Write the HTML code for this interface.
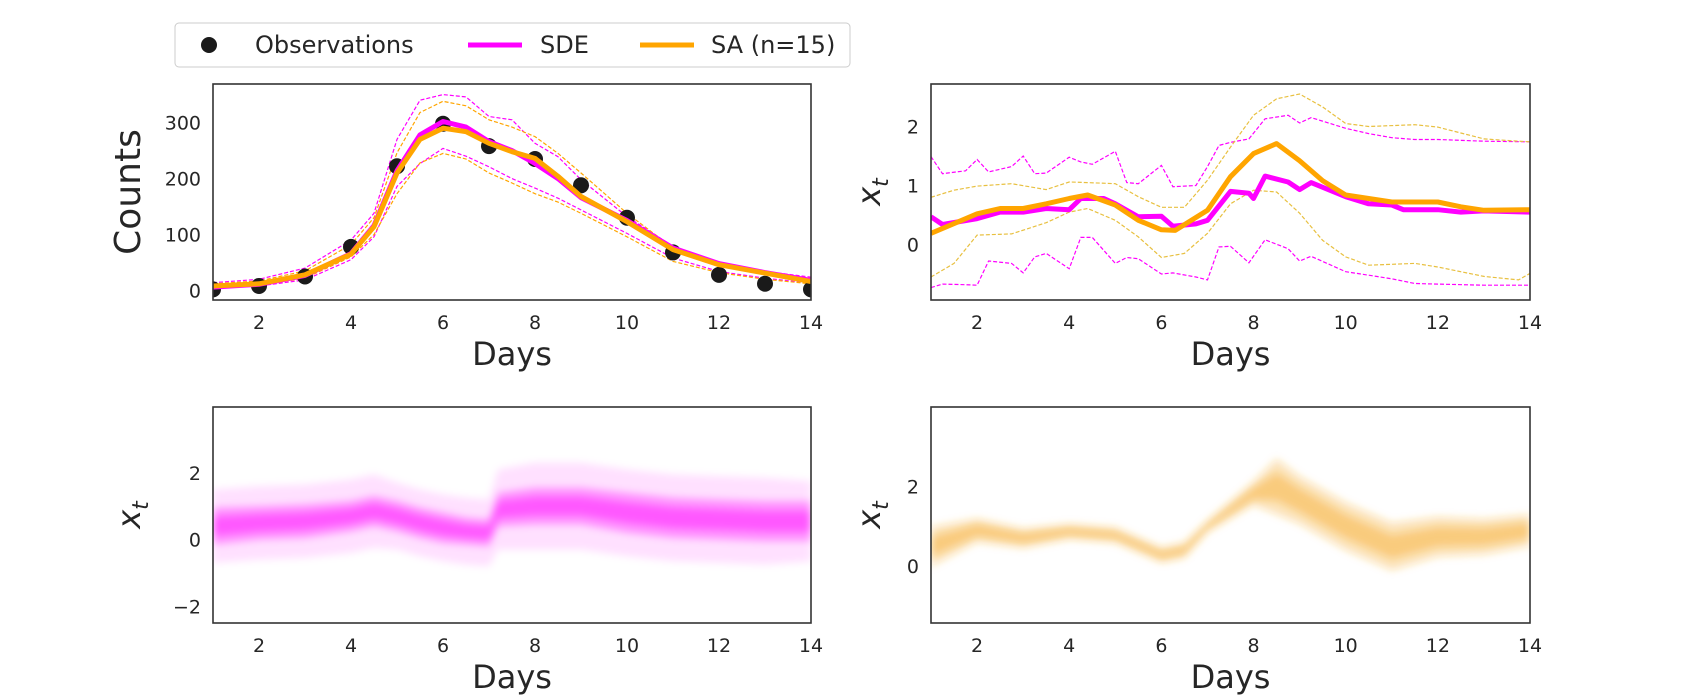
<!DOCTYPE html>
<html><head><meta charset="utf-8"><style>
body{margin:0;background:#fff}
svg{display:block}
text{font-family:"DejaVu Sans","Liberation Sans",sans-serif;fill:#262626}
</style></head><body>
<svg id="fig" width="1700" height="700" xmlns="http://www.w3.org/2000/svg">
<defs>
<clipPath id="c1"><rect x="213" y="84" width="598" height="216"/></clipPath>
<clipPath id="c2"><rect x="931" y="84" width="599" height="216"/></clipPath>
<clipPath id="c3"><rect x="213" y="407" width="598" height="216"/></clipPath>
<clipPath id="c4"><rect x="931" y="407" width="599" height="216"/></clipPath>
<filter id="blur" x="-5%" y="-20%" width="110%" height="140%"><feGaussianBlur stdDeviation="4"/></filter>
</defs>
<g>
<rect x="175" y="23" width="675" height="44" rx="4" fill="#fff" stroke="#ccc"/>
<circle cx="209" cy="45" r="8" fill="#1a1a1a"/>
<text x="255" y="53" font-size="24">Observations</text>
<line x1="468" y1="45" x2="522" y2="45" stroke="#ff00ff" stroke-width="5"/>
<text x="540" y="53" font-size="24">SDE</text>
<line x1="640" y1="45" x2="694" y2="45" stroke="#ffa500" stroke-width="5"/>
<text x="711" y="53" font-size="24">SA (n=15)</text>
</g>
<g id="g1"></g>
<g id="g2"></g>
<g id="g3"></g>
<g id="g4"></g>
</svg>
<script>
// ---- Panel 1: counts ----
const obsDays=[1,2,3,4,5,6,7,8,9,10,11,12,13,14];
const obsCounts=[2,8,25,78,222,298,258,235,188,130,68,28,12,2];
const cDays=[1,2,3,4,4.5,5,5.5,6,6.5,7,7.5,8,8.5,9,10,11,12,13,14];
const saMeanC=[8,12,28,65,114,210,270,290,284,263,248,236,204,168,123,73,46,31,16];
const sdeMeanC=[6,11,27,66,116,214,278,302,292,266,250,227,200,166,125,76,48,32,18];
const sdeUpC=[14,20,40,90,138,270,340,350,346,311,305,263,239,198,132,79,49,34,24];
const sdeLoC=[4,8,19,55,96,186,227,254,240,221,200,183,165,144,102,58,34,22,13];
const saUpC=[12,17,35,82,130,246,318,338,330,305,292,275,245,210,138,76,46,32,22];
const saLoC=[5,9,22,60,100,173,228,245,235,210,192,173,158,138,96,52,32,20,12];
// ---- Panel 2: latent mean ----
const saDays=[1,2,2.5,3,3.5,4,4.4,5,5.5,6,6.3,7,7.5,8,8.5,9,9.5,10,11,12,12.5,13,14];
const saMean=[0.19,0.52,0.61,0.61,0.69,0.78,0.84,0.67,0.41,0.25,0.24,0.58,1.15,1.54,1.71,1.42,1.08,0.84,0.72,0.72,0.64,0.58,0.59];
const sdeDays=[1,1.25,2,2.5,3,3.5,4,4.25,4.75,5,5.5,6,6.25,6.75,7,7.5,7.9,8,8.25,8.75,9,9.25,10,10.5,11,11.25,12,12.5,13,14];
const sdeMean=[0.47,0.34,0.44,0.55,0.55,0.61,0.59,0.78,0.78,0.69,0.47,0.48,0.31,0.35,0.41,0.9,0.87,0.78,1.16,1.06,0.93,1.05,0.81,0.69,0.67,0.59,0.59,0.55,0.57,0.55];
const sdeBDays=[1,1.25,1.75,2,2.25,2.75,3,3.25,3.5,4,4.25,4.5,5,5.25,5.5,6,6.25,6.75,7,7.25,7.5,7.9,8.25,8.75,9,9.25,10,10.5,11,11.5,12,13,14];
const sdeUp=[1.49,1.2,1.25,1.44,1.23,1.32,1.5,1.2,1.21,1.48,1.4,1.36,1.58,1.05,1.03,1.34,0.98,1.0,1.32,1.68,1.73,1.79,2.13,2.19,2.06,2.15,1.97,1.88,1.81,1.78,1.78,1.75,1.74];
const sdeLo=[-0.73,-0.67,-0.68,-0.69,-0.28,-0.32,-0.48,-0.21,-0.15,-0.41,0.12,0.12,-0.32,-0.22,-0.24,-0.5,-0.48,-0.55,-0.6,-0.04,-0.03,-0.31,0.08,-0.07,-0.28,-0.2,-0.46,-0.52,-0.58,-0.66,-0.67,-0.69,-0.69];
const saBDays=[1,1.5,2,2.75,3.5,4,4.4,5,5.5,6,6.5,7,7.5,8,8.5,9,9.5,10,10.5,11.5,12,13,13.75,14];
const saUp=[0.8,0.92,0.99,1.03,0.93,1.06,1.05,1.03,0.81,0.63,0.63,1.09,1.65,2.19,2.47,2.55,2.33,2.05,2.0,2.03,1.99,1.79,1.75,1.74];
const saLo=[-0.55,-0.32,0.16,0.18,0.37,0.55,0.61,0.41,0.13,-0.22,-0.15,0.19,0.69,0.92,0.89,0.53,0.07,-0.21,-0.35,-0.32,-0.38,-0.54,-0.6,-0.49];
// ---- Panel 3: SDE trajectory cloud ----
const t3Days=[1,2,3,4,4.5,5,5.5,6,6.5,7,7.2,8,9,10,11,12,13,14];
const t3Center=[0.4,0.5,0.55,0.7,0.85,0.7,0.5,0.35,0.25,0.2,0.9,1.0,1.0,0.8,0.65,0.6,0.55,0.55];
const t3Inner=[0.55,0.5,0.5,0.45,0.45,0.45,0.45,0.45,0.4,0.4,0.5,0.55,0.55,0.6,0.6,0.6,0.6,0.6];
const t3Outer=[1.1,1.1,1.1,1.1,1.1,1.0,1.0,1.0,1.0,1.0,1.2,1.3,1.3,1.3,1.3,1.3,1.3,1.2];
// ---- Panel 4: SA trajectory cloud ----
const t4Days=[1,2,3,4,5,6,6.5,7,8,8.5,9,10,11,12,13,14];
const t4Center=[0.49,0.9,0.7,0.87,0.78,0.28,0.4,1.0,1.83,2.0,1.66,1.0,0.49,0.74,0.74,0.9];
const t4Spread=[0.5,0.3,0.25,0.2,0.2,0.2,0.2,0.15,0.3,0.7,0.6,0.6,0.6,0.5,0.45,0.4];

const NS="http://www.w3.org/2000/svg";
function mk(tag,attrs,parent){const e=document.createElementNS(NS,tag);for(const k in attrs)e.setAttribute(k,attrs[k]);parent.appendChild(e);return e;}
function axis(x0,x1,y0,y1,dmin,dmax,vmin,vmax){
  return {x:d=>x0+(d-dmin)/(dmax-dmin)*(x1-x0),y:v=>y1-(v-vmin)/(vmax-vmin)*(y1-y0),x0,x1,y0,y1};
}
function pathD(ax,xs,ys){return xs.map((d,i)=>(i?'L':'M')+ax.x(d).toFixed(1)+','+ax.y(ys[i]).toFixed(1)).join(' ');}
function bandD(ax,xs,lo,hi){let s=xs.map((d,i)=>(i?'L':'M')+ax.x(d).toFixed(1)+','+ax.y(hi[i]).toFixed(1)).join(' ');
  for(let i=xs.length-1;i>=0;i--)s+=' L'+ax.x(xs[i]).toFixed(1)+','+ax.y(lo[i]).toFixed(1);return s+' Z';}
function frame(g,ax,yt,ylab,ylabX,clip,pre){
  const box=mk('rect',{x:ax.x0,y:ax.y0,width:ax.x1-ax.x0,height:ax.y1-ax.y0,fill:'none',stroke:'#333','stroke-width':1.6},g);
  
  
  [2,4,6,8,10,12,14].forEach(d=>{const t=mk('text',{x:ax.x(d),y:ax.y1+29,'font-size':19,'text-anchor':'middle'},g);t.textContent=d;
    
    });
  yt.forEach(v=>{const t=mk('text',{x:ax.x0-12,y:ax.y(v)+7,'font-size':19,'text-anchor':'end'},g);t.textContent=v<0?'\u2212'+(-v):v;
    
    });
  const xl=mk('text',{x:(ax.x0+ax.x1)/2,y:ax.y1+65,'font-size':32,'text-anchor':'middle'},g);xl.textContent='Days';
  
  
  const cy=(ax.y0+ax.y1)/2;
  const yl=mk('text',{x:ylabX,y:cy,'font-size':ylab==='Counts'?36:32,'text-anchor':'middle',transform:`rotate(-90 ${ylabX} ${cy})`},g);
  if(ylab==='Counts'){yl.textContent='Counts';}else{yl.setAttribute('font-style','italic');yl.textContent='x';const s=mk('tspan',{'font-size':22,dy:8},yl);s.textContent='t';}
  
  
}
// Panel 1
(function(){
  const g=document.getElementById('g1');
  const ax=axis(213,811,84,300,1,14,-17,369);
  const c=mk('g',{'clip-path':'url(#c1)'},g);
  const lines=[[sdeUpC,'#ff00ff',1,'sde-upper-band'],[sdeLoC,'#ff00ff',1,'sde-lower-band'],[saUpC,'#ffa500',1,'sa-upper-band'],[saLoC,'#ffa500',1,'sa-lower-band']];
  lines.forEach(l=>{const p=mk('path',{d:pathD(ax,cDays,l[0]),fill:'none',stroke:l[1],'stroke-width':1.2,'stroke-dasharray':'4,2'},c);
    
    });
  obsDays.forEach((d,i)=>{const o=mk('circle',{cx:ax.x(d),cy:ax.y(obsCounts[i]),r:8,fill:'#1a1a1a'},c);
    
    });
  const p1=mk('path',{d:pathD(ax,cDays,sdeMeanC),fill:'none',stroke:'#ff00ff','stroke-width':5,'stroke-linejoin':'round'},c);
  
  
  const p2=mk('path',{d:pathD(ax,cDays,saMeanC),fill:'none',stroke:'#ffa500','stroke-width':5,'stroke-linejoin':'round'},c);
  
  
  frame(g,ax,[0,100,200,300],'Counts',140,'c1','counts');
})();
// Panel 2
(function(){
  const g=document.getElementById('g2');
  const ax=axis(931,1530,84,300,1,14,-0.94,2.72);
  const c=mk('g',{'clip-path':'url(#c2)'},g);
  [[sdeBDays,sdeUp,'#ff00ff','sde-upper-band'],[sdeBDays,sdeLo,'#ff00ff','sde-lower-band'],[saBDays,saUp,'#e8c040','sa-upper-band'],[saBDays,saLo,'#e8c040','sa-lower-band']].forEach(l=>{
    const p=mk('path',{d:pathD(ax,l[0],l[1]),fill:'none',stroke:l[2],'stroke-width':1.2,'stroke-dasharray':'4,2'},c);
    
    });
  const p1=mk('path',{d:pathD(ax,sdeDays,sdeMean),fill:'none',stroke:'#ff00ff','stroke-width':5,'stroke-linejoin':'round'},c);
  
  
  const p2=mk('path',{d:pathD(ax,saDays,saMean),fill:'none',stroke:'#ffa500','stroke-width':5,'stroke-linejoin':'round'},c);
  
  
  frame(g,ax,[0,1,2],'x',880,'c2','latent');
})();
// Panel 3
(function(){
  const g=document.getElementById('g3');
  const ax=axis(213,811,407,623,1,14,-2.5,3.97);
  const c0=mk('g',{'clip-path':'url(#c3)'},g);
  const c=mk('g',{filter:'url(#blur)'},c0);
  const lo2=t3Center.map((v,i)=>v-t3Outer[i]),hi2=t3Center.map((v,i)=>v+t3Outer[i]);
  const lo1=t3Center.map((v,i)=>v-t3Inner[i]),hi1=t3Center.map((v,i)=>v+t3Inner[i]);
  const lo0=t3Center.map((v,i)=>v-t3Inner[i]*0.5),hi0=t3Center.map((v,i)=>v+t3Inner[i]*0.5);
  [[lo2,hi2,0.12,'sde-outer-cloud'],[lo1,hi1,0.35,'sde-inner-cloud'],[lo0,hi0,0.4,'sde-core-cloud']].forEach(b=>{
    const p=mk('path',{d:bandD(ax,t3Days,b[0],b[1]),fill:'#ff00ff','fill-opacity':b[2]},c);
    
    });
  frame(g,ax,[-2,0,2],'x',140,'c3','sde-trajectories');
})();
// Panel 4
(function(){
  const g=document.getElementById('g4');
  const ax=axis(931,1530,407,623,1,14,-1.43,4.0);
  const c0=mk('g',{'clip-path':'url(#c4)'},g);
  const c=mk('g',{filter:'url(#blur)'},c0);
  const lo1=t4Center.map((v,i)=>v-t4Spread[i]),hi1=t4Center.map((v,i)=>v+t4Spread[i]);
  const lo0=t4Center.map((v,i)=>v-t4Spread[i]*0.5),hi0=t4Center.map((v,i)=>v+t4Spread[i]*0.5);
  [[lo1,hi1,0.3,'sa-outer-cloud'],[lo0,hi0,0.4,'sa-core-cloud']].forEach(b=>{
    const p=mk('path',{d:bandD(ax,t4Days,b[0],b[1]),fill:'#f5a623','fill-opacity':b[2]},c);
    
    });
  frame(g,ax,[0,2],'x',880,'c4','sa-trajectories');
})();
</script>
</body></html>
